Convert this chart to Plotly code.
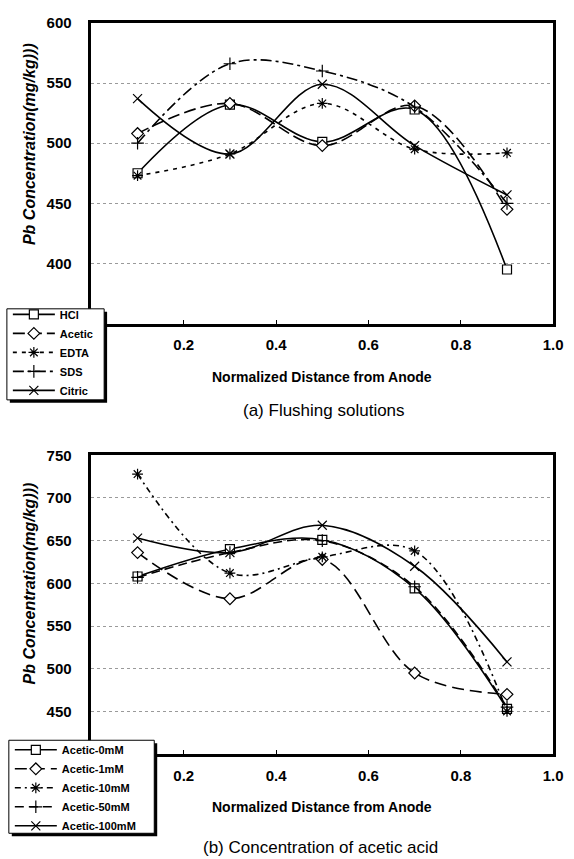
import plotly.graph_objects as go

W, H = 574, 859

# ---------------- data ----------------
x_pos = [0.1, 0.3, 0.5, 0.7, 0.9]

top_names = ["HCl", "Acetic", "EDTA", "SDS", "Citric"]
hcl = [475, 532, 501, 528, 395]
acetic = [508, 533, 498, 531, 445]
edta = [473, 491, 533, 495, 492]
sds = [500, 566, 560, 530, 450]
citric = [537, 491, 549, 498, 457]
top_series = [hcl, acetic, edta, sds, citric]

bot_names = ["Acetic-0mM", "Acetic-1mM", "Acetic-10mM", "Acetic-50mM", "Acetic-100mM"]
ac0 = [608, 640, 651, 594, 453]
ac1 = [636, 582, 628, 495, 470]
ac10 = [728, 612, 631, 638, 450]
ac50 = [607, 636, 650, 596, 455]
ac100 = [653, 636, 668, 620, 508]
bot_series = [ac0, ac1, ac10, ac50, ac100]

x_ticks = [0.2, 0.4, 0.6, 0.8, 1.0]
top_yticks = [400, 450, 500, 550, 600]
bot_yticks = [450, 500, 550, 600, 650, 700, 750]

x_title = "Normalized Distance from Anode"
y_title = "Pb Concentration(mg/kg)))"
title_a = "(a) Flushing solutions"
title_b = "(b) Concentration of acetic acid"

# ---------------- styles ----------------
top_styles = [
    dict(symbol="square", dash="solid", fill="white"),
    dict(symbol="diamond", dash="12px,5px", fill="white"),
    dict(symbol="asterisk-open", dash="4px,5px", fill="black"),
    dict(symbol="cross-thin-open", dash="11px,4px,3px,4px", fill="black"),
    dict(symbol="x-thin-open", dash="solid", fill="black"),
]
bot_styles = [
    dict(symbol="square", dash="solid", fill="white"),
    dict(symbol="diamond", dash="12px,6px", fill="white"),
    dict(symbol="asterisk-open", dash="6px,4px,2px,4px", fill="black"),
    dict(symbol="cross-thin-open", dash="9px,5px", fill="black"),
    dict(symbol="x-thin-open", dash="solid", fill="black"),
]

FONT = "Liberation Sans, Arial, sans-serif"

def px_x(p):
    return p / W

def px_y(p):
    return 1 - p / H

fig = go.Figure()

def add_series(names, series, styles, xa, ya, lg):
    for name, ys, st in zip(names, series, styles):
        fig.add_trace(go.Scatter(
            x=x_pos, y=ys, name=name, mode="lines+markers",
            line=dict(color="black", width=1.6, dash=st["dash"], shape="spline", smoothing=1.0),
            marker=dict(symbol=st["symbol"], size=9, color=st["fill"],
                        line=dict(color="black", width=1.2)),
            xaxis=xa, yaxis=ya, legend=lg,
        ))

add_series(top_names, top_series, top_styles, "x", "y", "legend")
add_series(bot_names, bot_series, bot_styles, "x2", "y2", "legend2")

tickfont = dict(family=FONT, size=15, color="black", weight="bold")
xaxis_common = dict(
    range=[0, 1], tickvals=x_ticks, tickformat=".1f",
    showline=True, mirror=True, linecolor="black", linewidth=2.5,
    ticks="inside", ticklen=4, tickcolor="black",
    showgrid=False, zeroline=False, tickfont=tickfont,
    ticklabelstandoff=6,
)
yaxis_common = dict(
    showline=True, mirror=True, linecolor="black", linewidth=2.5,
    ticks="", showgrid=True, gridcolor="#9a9a9a", griddash="dot", gridwidth=1,
    zeroline=False, tickfont=tickfont, ticklabelstandoff=14,
)

legend_font = dict(family=FONT, size=11, color="black", weight="bold")

x_dom = [px_x(93), px_x(563)]
fig.update_layout(
    width=W, height=H, margin=dict(l=0, r=0, t=0, b=0),
    paper_bgcolor="white", plot_bgcolor="white",
    font=dict(family=FONT, color="black"),
    xaxis=dict(domain=x_dom, anchor="y", **xaxis_common),
    yaxis=dict(domain=[px_y(318), px_y(14)], anchor="x", range=[350, 600],
               tickvals=top_yticks, **yaxis_common),
    xaxis2=dict(domain=x_dom, anchor="y2", **xaxis_common),
    yaxis2=dict(domain=[px_y(753), px_y(451)], anchor="x2", range=[400, 750],
                tickvals=bot_yticks, **yaxis_common),
    legend=dict(x=px_x(8), y=px_y(294), xanchor="left", yanchor="top",
                bgcolor="rgba(0,0,0,0)", borderwidth=0,
                font=legend_font, tracegroupgap=0, itemwidth=42),
    legend2=dict(x=px_x(10), y=px_y(734), xanchor="left", yanchor="top",
                 bgcolor="rgba(0,0,0,0)", borderwidth=0,
                 font=legend_font, tracegroupgap=0, itemwidth=42),
    showlegend=True,
)

# legend boxes with drop shadows (drawn as shapes; legend itself is transparent)
for (x0, y0, x1, y1) in [(7, 303, 106, 395), (9, 739, 157, 833)]:
    fig.add_shape(type="rect", xref="paper", yref="paper",
                  x0=px_x(x0 + 3), x1=px_x(x1 + 3), y0=px_y(y1 + 3), y1=px_y(y0 + 3),
                  fillcolor="black", line=dict(width=0), layer="above")
    fig.add_shape(type="rect", xref="paper", yref="paper",
                  x0=px_x(x0), x1=px_x(x1), y0=px_y(y1), y1=px_y(y0),
                  fillcolor="white", line=dict(color="black", width=1), layer="above")

annos = [
    dict(text=x_title, x=px_x(328), y=px_y(372), font=dict(size=14, weight="bold")),
    dict(text=x_title, x=px_x(328), y=px_y(806), font=dict(size=14, weight="bold")),
    dict(text=title_a, x=px_x(330), y=px_y(406), font=dict(size=17)),
    dict(text=title_b, x=px_x(326), y=px_y(847), font=dict(size=17)),
    dict(text=y_title, x=px_x(30), y=px_y(136), textangle=-90,
         font=dict(size=16, weight="bold", style="italic")),
    dict(text=y_title, x=px_x(30), y=px_y(580), textangle=-90,
         font=dict(size=16, weight="bold", style="italic")),
]
for a in annos:
    f = dict(family=FONT, color="black")
    f.update(a.pop("font"))
    fig.add_annotation(xref="paper", yref="paper", showarrow=False,
                       xanchor="center", yanchor="middle", font=f, **a)

fig.write_html("out.html")
